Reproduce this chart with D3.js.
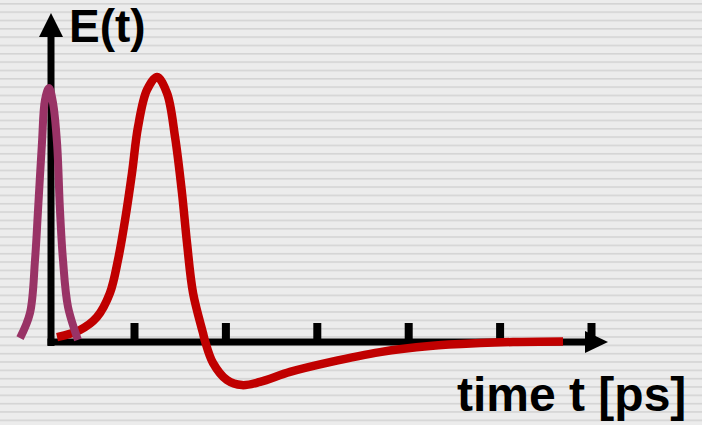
<!DOCTYPE html>
<html>
<head>
<meta charset="utf-8">
<script src="https://cdn.jsdelivr.net/npm/d3@7.9.0/dist/d3.min.js"></script>
<style>
  html, body { margin: 0; padding: 0; background: #ececec; }
  svg { display: block; }
  text { font-family: "Liberation Sans", Arial, sans-serif; font-weight: bold; fill: #000; }
</style>
</head>
<body>
<div id="chart"></div>
<script>
// Wide terahertz pulse E(t) (t in ps, E normalised)
const redTime = [0.158, 0.409, 0.595, 0.737, 0.825, 0.902, 0.978, 1.044, 1.142, 1.252,
                 1.361, 1.449, 1.525, 1.580, 1.646, 1.755, 1.777, 1.864, 2.017, 2.182,
                 2.379, 2.707, 3.144, 3.691, 4.238, 4.786, 5.147, 5.694];
const redE = [0.015, 0.042, 0.091, 0.182, 0.307, 0.458, 0.636, 0.811, 0.951, 1.0,
              0.939, 0.773, 0.561, 0.371, 0.182, 0.030, 0.0, -0.083, -0.148, -0.167,
              -0.155, -0.117, -0.080, -0.042, -0.019, -0.008, -0.004, -0.002];

// Short pulse near t = 0
const purpleTime = [-0.247, -0.138, -0.083, -0.050, -0.007, 0.026, 0.070, 0.114,
                    0.158, 0.190, 0.223, 0.278, 0.387];
const purpleE = [0.011, 0.106, 0.307, 0.496, 0.750, 0.913, 0.958, 0.902,
                 0.750, 0.496, 0.307, 0.129, 0.004];

const tickValues = [1, 2, 3, 4, 5, 6];
const yLabel = 'E(t)';
const xLabel = 'time t [ps]';

const width = 702, height = 425;

const x = d3.scaleLinear().domain([0, 1]).range([42.6, 134]);
const y = d3.scaleLinear().domain([0, 1]).range([341, 77]);

const svg = d3.select('#chart').append('svg')
    .attr('width', width)
    .attr('height', height);

// striped slide background
const pat = svg.append('defs').append('pattern')
    .attr('id', 'stripes')
    .attr('patternUnits', 'userSpaceOnUse')
    .attr('width', 8)
    .attr('height', 8.33)
    .attr('y', 3);
pat.append('rect').attr('width', 8).attr('height', 8.33).attr('fill', '#ececec');
pat.append('rect').attr('width', 8).attr('height', 1.6).attr('fill', '#d4d4d4');

svg.append('rect')
    .attr('width', width)
    .attr('height', height)
    .attr('fill', 'url(#stripes)');

// axes
const axisX0 = 51;          // pixel position of the vertical axis
const axisY0 = 342;         // pixel position of the horizontal axis

svg.append('line')
    .attr('x1', axisX0).attr('x2', axisX0)
    .attr('y1', axisY0 + 4).attr('y2', 36)
    .attr('stroke', '#000').attr('stroke-width', 7);
svg.append('path')
    .attr('d', `M${axisX0 - 12},37 L${axisX0},13 L${axisX0 + 12},37 Z`)
    .attr('fill', '#000');

svg.append('line')
    .attr('x1', axisX0 - 3.5).attr('x2', 588)
    .attr('y1', axisY0).attr('y2', axisY0)
    .attr('stroke', '#000').attr('stroke-width', 7);
svg.append('path')
    .attr('d', `M585,${axisY0 - 11} L608,${axisY0} L585,${axisY0 + 11} Z`)
    .attr('fill', '#000');

// ticks
const xAxis = d3.axisTop(x)
    .tickValues(tickValues)
    .tickSize(19)
    .tickFormat('');
const gx = svg.append('g')
    .attr('transform', `translate(0,${axisY0})`)
    .call(xAxis);
gx.select('.domain').remove();
gx.selectAll('.tick line')
    .attr('stroke', '#000')
    .attr('stroke-width', 8);

// curves
const line = d3.line()
    .x(d => x(d[0]))
    .y(d => y(d[1]))
    .curve(d3.curveCatmullRom.alpha(0.5));

svg.append('path')
    .datum(redTime.map((t, i) => [t, redE[i]]))
    .attr('d', line)
    .attr('fill', 'none')
    .attr('stroke', '#c00000')
    .attr('stroke-width', 8.5);

svg.append('path')
    .datum(purpleTime.map((t, i) => [t, purpleE[i]]))
    .attr('d', line)
    .attr('fill', 'none')
    .attr('stroke', '#993366')
    .attr('stroke-width', 8);

// labels
svg.append('text')
    .attr('x', 69)
    .attr('y', 42)
    .style('font-size', '46px')
    .text(yLabel);

svg.append('text')
    .attr('x', 457)
    .attr('y', 411)
    .style('font-size', '48px')
    .text(xLabel);
</script>
</body>
</html>
